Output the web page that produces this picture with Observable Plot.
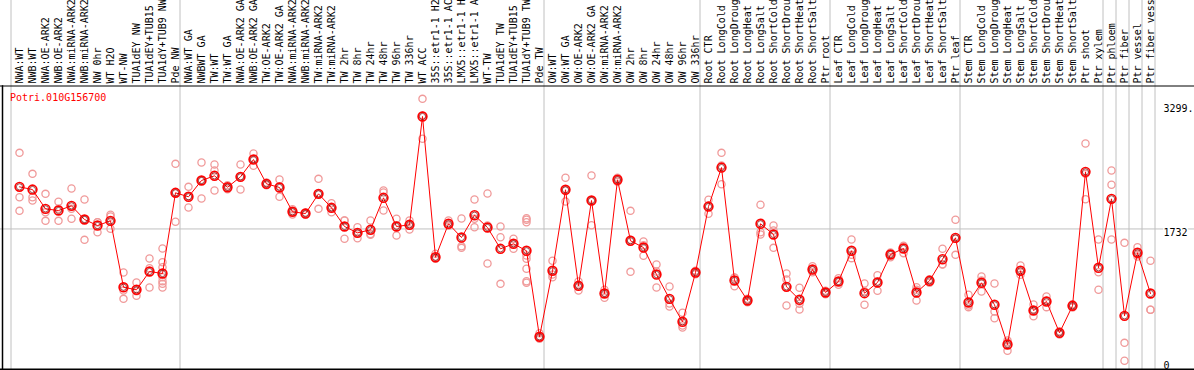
<!DOCTYPE html>
<html>
<head>
<meta charset="utf-8">
<script src="https://cdn.jsdelivr.net/npm/d3@7"></script>
<script src="https://cdn.jsdelivr.net/npm/@observablehq/plot@0.6"></script>
<style>
  html, body { margin: 0; padding: 0; background: white; }
</style>
</head>
<body>
<div id="chart"></div>
<script>
const geneId = "Potri.010G156700";

const samples = [
  "NWA:WT","NWB:WT","NWA:OE-ARK2","NWB:OE-ARK2","NWA:miRNA-ARK2","NWB:miRNA-ARK2","NW 0hr","WT H2O","WT-NW","TUA1dEY NW",
  "TUA1dEY+TUB15 NW","TUA1dY+TUB9 NW","Pde NW",
  "NWA:WT GA","NWBWT GA","TW:WT","TW:WT GA","NWA:OE-ARK2 GA","NWB:OE-ARK2 GA","TW:OE-ARK2","TW:OE-ARK2 GA",
  "NWA:miRNA-ARK2 GA","NWB:miRNA-ARK2 GA","TW:miRNA-ARK2","TW:miRNA-ARK2 GA","TW 2hr","TW 8hr","TW 24hr","TW 48hr","TW 96hr","TW 336hr",
  "WT ACC","35S::etr1-1 H2O","35S::etr1-1 ACC","LMX5::etr1-1 H2O","LMX5::etr1-1 ACC","WT-TW","TUA1dEY TW","TUA1dEY+TUB15 TW","TUA1dY+TUB9 TW","Pde TW",
  "OW:WT","OW:WT GA","OW:OE-ARK2","OW:OE-ARK2 GA","OW:miRNA-ARK2","OW:miRNA-ARK2 GA","OW 2hr","OW 8hr","OW 24hr","OW 48hr","OW 96hr","OW 336hr",
  "Root CTR","Root LongCold","Root LongDrought","Root LongHeat","Root LongSalt","Root ShortCold","Root ShortDrought","Root ShortHeat","Root ShortSalt","Ptr root",
  "Leaf CTR","Leaf LongCold","Leaf LongDrought","Leaf LongHeat","Leaf LongSalt","Leaf ShortCold","Leaf ShortDrought","Leaf ShortHeat","Leaf ShortSalt","Ptr leaf",
  "Stem CTR","Stem LongCold","Stem LongDrought","Stem LongHeat","Stem LongSalt","Stem ShortCold","Stem ShortDrought","Stem ShortHeat","Stem ShortSalt","Ptr shoot","Ptr xylem",
  "Ptr phloem","Ptr fiber","Ptr vessel","Ptr fiber vessel"
];

// index where each sample group starts (last = end)
const groupBoundaries = [0, 13, 41, 53, 63, 73, 84, 85, 86, 87, 88];

const means = [
  2262,2228,1985,1964,2023,1851,1775,1834,998,966,
  1196,1171,2187,2137,2342,2401,2257,2388,2606,2300,
  2254,1948,1926,2174,1998,1763,1683,1721,2124,1763,
  1784,3148,1376,1797,1624,1905,1750,1482,1545,1457,
  374,1205,2225,1016,2090,919,2351,1583,1498,1158,
  852,563,1183,2014,2505,1083,831,1797,1662,1003,
  840,1221,932,1070,1457,923,1058,1410,1486,932,
  1079,1351,1620,806,1054,777,277,1205,705,818,
  424,764,2451,1243,2111,638,1432,919
];

const replicates = [
  [2690,2131,1960],[2426,2131,2090],[2174,1943,1834],[2074,1985,1834],[2241,1985,1860],
  [2103,1851,1595],[1817,1817,1691],[1910,1889,1734],[1183,957,852],[1058,948,890],
  [1360,1238,995],[1486,1313,1250,1124,1074,1041,995],[2552,2187,1822],[2262,2145,2002],[2568,2342,2115],
  [2543,2468,2216],[2283,2257,2232],[2543,2392,2228],[2682,2606,2527],[2317,2300,2283],
  [2354,2270,2137],[1980,1948,1914],[1939,1926,1914],[2363,2174,1985],[2056,1998,1943],
  [1838,1838,1608],[1754,1678,1615],[1838,1667,1658],[2216,2191,1964],[1860,1779,1649],
  [1838,1788,1725],[3370,3160,2867],[1419,1376,1356],[1838,1775,1775],[1863,1515,1494],
  [2103,1860,1754],[2178,1775,1297],[1763,1628,1041],[1608,1545,1482],[1867,1847,1817,1398,1356,1230,1074,1054],
  [419,374,349],[1331,1158,1124],[2376,2220,2077],[1070,1020,957],[2405,2086,1779],
  [966,927,865],[2376,2351,2325],[1960,1595,1192],[1574,1527,1394],[1284,1196,995],
  [1007,793,755],[676,516,491],[1205,1183,1162],[2099,2023,1923],[2690,2531,2295],
  [1121,1117,1011],[852,831,810],[2036,1691,1662],[1775,1712,1494],[1171,1095,768],
  [991,789,718],[1263,1212,1187],[953,932,910],[1112,1070,1029],[1599,1406,1364],
  [1045,948,777],[1150,1070,953],[1435,1410,1376],[1520,1511,1427],[998,966,831],
  [1099,1083,1054],[1482,1288,1284],[1847,1608,1406],[903,768,747],[1133,1083,944],
  [1045,692,608],[327,306,198],[1272,1187,1155],[781,701,633],[881,827,747],
  [444,424,403],[784,764,743],[2808,2426,2106],[1599,1187,966],[2468,2288,1599],
  [1557,298,72],[1502,1406,1385],[1331,714,714]
];

const yTickValues = [3299, 1732, 0];
const yTickLabels = ["3299.", "1732", "0"];

const meanRows = means.map((v, i) => ({i, v}));
const repRows = replicates.flatMap((arr, i) => arr.map(v => ({i, v})));
const tickRows = yTickValues.map((v, k) => ({v, label: yTickLabels[k]}));

const chart = Plot.plot({
  width: 1194,
  height: 370,
  marginTop: 85.5,
  marginBottom: 1,
  marginLeft: 2,
  marginRight: 0,
  insetTop: 18.5,
  insetBottom: 3,
  insetLeft: 17,
  insetRight: 44,
  x: {type: "linear", domain: [0, samples.length - 1], axis: null},
  y: {domain: [0, 3299], axis: null},
  style: {fontFamily: "'DejaVu Sans Mono', monospace", fontSize: "10px", background: "white", color: "black"},
  marks: [
    Plot.ruleX(groupBoundaries, {x: b => b - 8.5 / 13, stroke: "#c0c0c0", strokeWidth: 1, insetTop: -85.5, insetBottom: -1}),
    Plot.ruleY([yTickValues[1]], {stroke: "#c0c0c0", strokeWidth: 1, insetLeft: -2}),
    Plot.frame({anchor: "top", stroke: "black", strokeWidth: 1, insetLeft: -2}),
    Plot.frame({anchor: "left", stroke: "black", strokeWidth: 1.5}),
    Plot.frame({anchor: "bottom", stroke: "black", strokeWidth: 2, insetLeft: -2}),
    Plot.dot(repRows, {x: "i", y: "v", r: 3.6, stroke: "#f09a9a", strokeWidth: 1.3, fill: "none"}),
    Plot.line(meanRows, {x: "i", y: "v", stroke: "red", strokeWidth: 1}),
    Plot.dot(meanRows, {x: "i", y: "v", r: 4.4, stroke: "red", strokeWidth: 1.6, fill: "none"}),
    Plot.dot(meanRows, {x: "i", y: "v", r: 3.1, stroke: "#700", strokeWidth: 0.7, fill: "none"}),
    Plot.text(samples, {x: (d, i) => i, text: d => d, frameAnchor: "top", rotate: -90, textAnchor: "start", lineAnchor: "middle", dy: -2.5, fill: "black"}),
    Plot.text([geneId], {text: d => d, frameAnchor: "top-left", textAnchor: "start", lineAnchor: "top", dx: 7.5, dy: 7.5, fill: "red"}),
    Plot.text(tickRows.filter(d => d.v > 0), {y: "v", text: "label", frameAnchor: "right", textAnchor: "start", lineAnchor: "top", dx: -31, fill: "black", stroke: "white", strokeWidth: 3, paintOrder: "stroke"}),
    Plot.text(tickRows.filter(d => d.v === 0), {y: "v", text: "label", frameAnchor: "right", textAnchor: "start", lineAnchor: "bottom", dx: -31, dy: 2, fill: "black"})
  ]
});
document.getElementById("chart").appendChild(chart);
</script>
</body>
</html>
